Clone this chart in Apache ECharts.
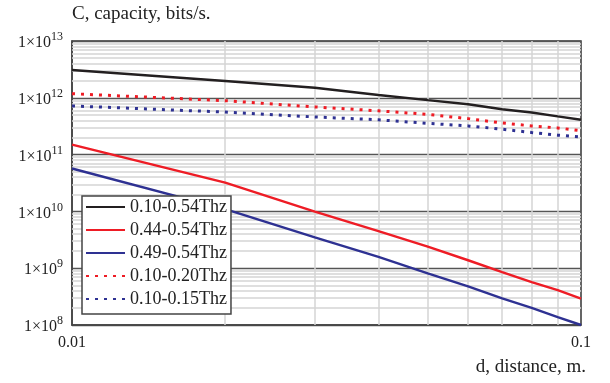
<!DOCTYPE html>
<html>
<head>
<meta charset="utf-8">
<script src="https://cdn.jsdelivr.net/npm/echarts@6/dist/echarts.min.js"></script>
<style>
  html, body { margin: 0; padding: 0; background: #fff; }
  #chart { width: 610px; height: 383px; }
</style>
</head>
<body>
<div id="chart"></div>
<script>
// ---- data ----
const distances = [0.01, 0.02, 0.03, 0.04, 0.05, 0.06, 0.07, 0.08, 0.09, 0.1];
const seriesNames = ['0.10-0.54Thz', '0.44-0.54Thz', '0.49-0.54Thz', '0.10-0.20Thz', '0.10-0.15Thz'];
const cap_010_054 = [3.08e12, 1.98e12, 1.50e12, 1.12e12, 9.1e11, 7.7e11, 6.3e11, 5.5e11, 4.7e11, 4.1e11];
const cap_044_054 = [1.5e11, 3.2e10, 9.9e9, 4.5e9, 2.4e9, 1.38e9, 8.5e8, 5.7e8, 4.1e8, 2.9e8];
const cap_049_054 = [5.7e10, 1.1e10, 3.5e9, 1.58e9, 8.1e8, 4.8e8, 2.95e8, 2.0e8, 1.38e8, 1.0e8];
const cap_010_020 = [1.18e12, 8.9e11, 6.9e11, 5.9e11, 5.1e11, 4.3e11, 3.6e11, 3.2e11, 2.95e11, 2.63e11];
const cap_010_015 = [7.2e11, 5.6e11, 4.6e11, 4.1e11, 3.55e11, 3.2e11, 2.8e11, 2.45e11, 2.2e11, 2.05e11];
const xTickLabels = ['0.01', '0.1'];
const yTickExponents = ['8', '9', '10', '11', '12', '13'];
const yMinorMultipliers = [2, 3, 4, 5, 6, 7, 8, 9];
const yDecades = [1e8, 1e9, 1e10, 1e11, 1e12];
const xMinorTicks = [0.02, 0.03, 0.04, 0.05, 0.06, 0.07, 0.08, 0.09];
const yTitle = 'C, capacity, bits/s.';
const xTitle = 'd, distance, m.';

// ---- build ----
const FONT = '"Liberation Serif", "Times New Roman", serif';
const colors = ['#231f20', '#ee1c25', '#2e3192', '#ee1c25', '#2e3192'];
const dashed = [false, false, false, true, true];
const allData = [cap_010_054, cap_044_054, cap_049_054, cap_010_020, cap_010_015];

const gridLines = [];
yDecades.forEach(d => yMinorMultipliers.forEach(m => gridLines.push({ yAxis: m * d })));
xMinorTicks.forEach(v => gridLines.push({ xAxis: v }));

const series = [{
  name: 'grid',
  type: 'line',
  data: [],
  silent: true,
  z: 1,
  markLine: {
    z: 1,
    silent: true,
    symbol: ['none', 'none'],
    label: { show: false },
    animation: false,
    lineStyle: { color: '#d4d4d4', width: 1.5, type: 'solid' },
    data: gridLines
  }
}];

allData.forEach((arr, i) => {
  series.push({
    name: seriesNames[i],
    type: 'line',
    z: 3,
    symbol: 'none',
    showSymbol: false,
    animation: false,
    data: distances.map((d, j) => [d, arr[j]]),
    lineStyle: dashed[i]
      ? { color: colors[i], width: 3, type: [3, 6] }
      : { color: colors[i], width: 2.4 },
    itemStyle: { color: colors[i] }
  });
});

const chart = echarts.init(document.getElementById('chart'), null, { renderer: 'canvas' });
chart.setOption({
  animation: false,
  backgroundColor: '#fff',
  grid: {
    left: 72, right: 29, top: 41, bottom: 58,
    show: true, borderColor: '#333', borderWidth: 1.5
  },
  xAxis: {
    type: 'log', logBase: 10, min: 0.01, max: 0.1,
    axisLine: { show: true, lineStyle: { color: '#444', width: 1.5 } },
    axisTick: { show: false },
    splitLine: { show: false },
    minorSplitLine: { show: false },
    axisLabel: {
      margin: 10,
      fontFamily: FONT, fontSize: 16, color: '#222',
      formatter: function (v) {
        const e = Math.round(Math.log10(v));
        return xTickLabels[e + 2] || '';
      }
    }
  },
  yAxis: {
    type: 'log', logBase: 10, min: 1e8, max: 1e13,
    axisLine: { show: true, lineStyle: { color: '#444', width: 1.5 } },
    axisTick: { show: false },
    splitLine: { show: true, lineStyle: { color: '#555', width: 1.3 } },
    axisLabel: {
      margin: 9,
      formatter: function (v) {
        const e = Math.round(Math.log10(v));
        return '{b|1×10}{s|' + yTickExponents[e - 8] + '}';
      },
      rich: {
        b: { fontFamily: FONT, fontSize: 16, color: '#222', lineHeight: 16, verticalAlign: 'bottom' },
        s: { fontFamily: FONT, fontSize: 12, color: '#222', padding: [0, 0, 8, 0], verticalAlign: 'bottom' }
      }
    }
  },
  legend: {
    z: 50,
    data: seriesNames,
    orient: 'vertical',
    left: 82, top: 196,
    itemWidth: 39, itemHeight: 14,
    itemGap: 5,
    padding: [2, 4, 6, 3],
    backgroundColor: '#fff',
    borderColor: '#444', borderWidth: 1.5, borderRadius: 0,
    itemStyle: { opacity: 0 },
    textStyle: { fontFamily: FONT, fontSize: 18, color: '#222', lineHeight: 18 }
  },
  graphic: [
    { type: 'text', left: 72, top: 5, style: { text: yTitle, font: '19px ' + FONT, fill: '#222' } },
    { type: 'text', right: 24, top: 358, style: { text: xTitle, font: '19px ' + FONT, fill: '#222' } }
  ],
  series: series
});
</script>
</body>
</html>
